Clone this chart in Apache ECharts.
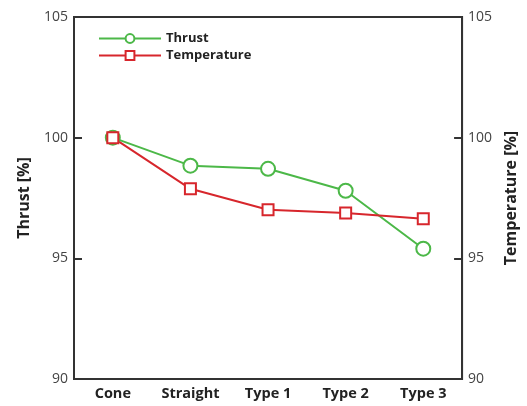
<!DOCTYPE html>
<html>
<head>
<meta charset="utf-8">
<script src="https://cdn.jsdelivr.net/npm/echarts@6/dist/echarts.min.js"></script>
<style>
  html, body { margin: 0; padding: 0; background: #fff; }
  #main { width: 527px; height: 406px; }
</style>
</head>
<body>
<div id="main"></div>
<script>
// data
const categories = ['Cone', 'Straight', 'Type 1', 'Type 2', 'Type 3'];
const thrust = [100, 98.84, 98.71, 97.80, 95.40];
const temperature = [100, 97.88, 97.01, 96.88, 96.64];

const font = '"Open Sans", "Noto Sans", sans-serif';
const green = '#4cb848';
const red = '#d7262c';

function yAxis(name, pos, gap) {
  return {
    type: 'value', position: pos, min: 90, max: 105, interval: 5,
    name: name, nameLocation: 'middle', nameGap: gap,
    nameTextStyle: { fontFamily: font, fontWeight: 'bold', fontSize: 16, color: '#222' },
    axisLine: { show: true, lineStyle: { color: '#333', width: 2 } },
    axisTick: { show: true, inside: true, length: 8, lineStyle: { color: '#333', width: 2 } },
    axisLabel: { fontFamily: font, fontSize: 14, color: '#444', margin: 6 },
    splitLine: { show: false }
  };
}

const chart = echarts.init(document.getElementById('main'));
chart.setOption({
  animation: false,
  grid: { left: 74, right: 63, top: 17, bottom: 27, show: true, borderColor: '#333', borderWidth: 2 },
  legend: {
    left: 93, top: 27, orient: 'vertical', itemWidth: 62, itemHeight: 11, itemGap: 4,
    textStyle: { fontFamily: font, fontWeight: 'bold', fontSize: 13, color: '#222' },
    data: ['Thrust', 'Temperature']
  },
  xAxis: {
    type: 'category', data: categories,
    axisLine: { lineStyle: { color: '#333', width: 2 } },
    axisTick: { show: false },
    axisLabel: { interval: 0, fontFamily: font, fontWeight: 'bold', fontSize: 14.5, color: '#222', margin: 7 }
  },
  yAxis: [yAxis('Thrust [%]', 'left', 42), yAxis('Temperature [%]', 'right', 38)],
  series: [
    {
      name: 'Thrust', type: 'line', data: thrust, yAxisIndex: 0,
      symbol: 'emptyCircle', symbolSize: 14,
      lineStyle: { color: green, width: 2 },
      itemStyle: { color: green, borderWidth: 2 }
    },
    {
      name: 'Temperature', type: 'line', data: temperature, yAxisIndex: 1,
      symbol: 'emptyRect', symbolSize: 11,
      lineStyle: { color: red, width: 2 },
      itemStyle: { color: red, borderWidth: 2 }
    }
  ]
});
</script>
</body>
</html>
